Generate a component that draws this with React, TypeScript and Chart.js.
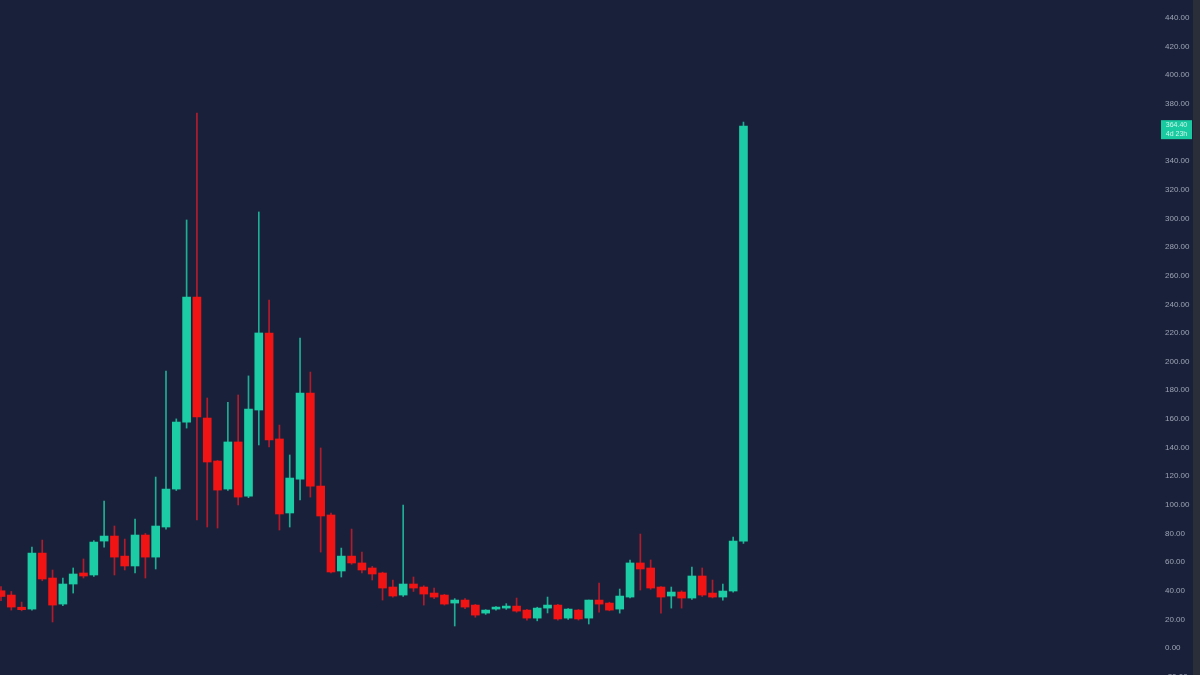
import React, { useEffect, useRef } from "react";
import { Chart, registerables } from "chart.js";

Chart.register(...registerables);

// candle index (time slot)
const opens = [40, 37.0, 28.5, 27.2, 66.3, 48.9, 30.7, 44.7, 52.4, 51.0, 74.7, 78.2, 64.2, 57.3, 78.9, 63.5, 84.5, 111.0, 157.8, 245.1,
  160.6, 130.6, 111.0, 143.9, 106.1, 166.2, 220.0, 146.0, 94.3, 118.0, 178.1, 113.1, 92.9, 53.8, 64.2, 59.4, 55.9, 52.4, 42.6, 37.0,
  44.7, 42.6, 38.4, 37.0, 31.4, 33.5, 30.0, 24.4, 27.2, 27.9, 29.3, 26.5, 20.9, 27.9, 30.0, 20.9, 26.5, 20.9, 33.5, 31.4,
  27.2, 35.6, 59.4, 55.9, 42.6, 36.3, 39.1, 34.9, 50.3, 38.4, 35.6, 39.8, 74.7];
const highs = [43, 39.5, 32.1, 70.5, 75.4, 54.5, 48.9, 55.9, 62.2, 75.0, 102.7, 85.2, 76.1, 90.1, 80.0, 119.4, 193.4, 160.0, 298.9, 373.6,
  174.6, 131.0, 171.6, 176.7, 190.0, 304.5, 243.0, 155.7, 134.8, 216.5, 192.7, 139.7, 94.3, 69.8, 83.1, 67.0, 57.0, 53.0, 47.5, 99.9,
  49.6, 43.5, 41.9, 37.5, 34.5, 34.5, 30.5, 26.8, 29.0, 31.0, 34.9, 27.0, 28.5, 35.6, 30.5, 27.5, 27.0, 33.5, 45.4, 32.0,
  41.2, 61.5, 79.6, 61.5, 43.0, 42.6, 40.0, 56.6, 55.9, 47.5, 44.7, 77.5, 367.3];
const lows = [33, 26.5, 26.0, 26.5, 47.0, 18.2, 29.5, 38.4, 48.9, 50.0, 70.5, 51.0, 54.5, 52.4, 48.9, 55.2, 83.0, 110.0, 153.6, 89.4,
  84.5, 83.8, 110.0, 99.9, 105.0, 141.8, 140.4, 82.4, 84.5, 103.4, 105.4, 67.0, 52.4, 49.6, 58.5, 52.4, 47.5, 33.5, 35.5, 36.0,
  39.5, 30.0, 34.5, 30.0, 15.4, 27.5, 21.5, 23.5, 26.5, 27.0, 25.0, 19.5, 19.0, 24.5, 19.5, 20.0, 19.5, 16.8, 25.1, 26.0,
  24.4, 35.0, 40.5, 41.0, 24.4, 27.9, 27.9, 34.0, 36.0, 35.0, 33.5, 39.0, 73.0];
const closes = [36, 28.6, 26.8, 66.3, 48.2, 30.0, 44.7, 51.7, 50.3, 74.0, 78.2, 63.5, 57.3, 78.9, 63.5, 85.2, 111.0, 157.8, 245.1, 161.3,
  129.9, 110.3, 143.9, 105.4, 166.9, 220.0, 145.3, 93.6, 118.7, 178.1, 113.1, 92.2, 53.1, 64.2, 59.4, 54.5, 51.7, 41.9, 36.3, 44.7,
  41.9, 37.7, 35.6, 30.7, 33.5, 28.6, 23.0, 26.5, 28.6, 29.3, 25.8, 20.9, 27.9, 30.0, 20.3, 27.2, 20.3, 33.5, 30.7, 26.5,
  36.3, 59.4, 55.2, 41.9, 35.6, 39.1, 34.9, 50.3, 37.0, 35.6, 39.8, 74.7, 364.4];

const yTicks = [-20, 0, 20, 40, 60, 80, 100, 120, 140, 160, 180, 200, 220, 240, 260, 280, 300, 320, 340, 360, 380, 400, 420, 440];
const lastPrice = 364.4;
const lastPriceLabel = "364.40";
const countdownLabel = "4d 23h";

const UP = "#1ccca4";
const DOWN = "#f01414";
const UP_WICK = "rgba(30,200,165,0.85)";
const DOWN_WICK = "rgba(220,25,40,0.8)";
const BG = "#19213a";

export default function App() {
  const ref = useRef<HTMLCanvasElement | null>(null);
  useEffect(() => {
    if (!ref.current) return;
    const idx = opens.map((_, i) => i);
    const up = idx.map((i) => closes[i] >= opens[i]);
    const bgPlugin = {
      id: "bg",
      beforeDraw(chart: any) {
        const c = chart.ctx;
        c.save();
        c.fillStyle = BG;
        c.fillRect(0, 0, chart.width, chart.height);
        c.fillStyle = "#2a2e39";
        c.fillRect(1193, 0, 7, chart.height);
        c.restore();
      },
      afterDraw(chart: any) {
        const c = chart.ctx;
        const y = chart.scales.y.getPixelForValue(lastPrice) + 3;
        c.save();
        c.fillStyle = "#19c9a0";
        c.fillRect(1161, y - 9, 31, 19);
        c.fillStyle = "rgba(235,255,248,0.85)";
        c.font = "7px 'Liberation Sans', Arial, sans-serif";
        c.textAlign = "center";
        c.textBaseline = "middle";
        c.fillText(lastPriceLabel, 1176.5, y - 4);
        c.fillText(countdownLabel, 1176.5, y + 5);
        c.restore();
      },
    };
    const chart = new Chart(ref.current, {
      type: "bar",
      data: {
        datasets: [
          {
            label: "wick",
            data: idx.map((i) => ({ x: i, y: [lows[i], highs[i]] })) as any,
            backgroundColor: idx.map((i) => (up[i] ? UP_WICK : DOWN_WICK)),
            barThickness: 1,
            grouped: false,
            order: 2,
          },
          {
            label: "body",
            data: idx.map((i) => ({ x: i, y: [opens[i], closes[i]] })) as any,
            backgroundColor: idx.map((i) => (up[i] ? UP : DOWN)),
            barThickness: 8,
            minBarLength: 2,
            grouped: false,
            order: 1,
          },
        ],
      },
      options: {
        responsive: false,
        animation: false,
        layout: { padding: 0 },
        plugins: { legend: { display: false }, tooltip: { enabled: false } },
        scales: {
          x: { type: "linear", min: -0.097, max: 112.2, display: false, offset: false },
          y: {
            position: "right",
            min: -29.3,
            max: 452.5,
            grid: { display: false, drawTicks: false },
            border: { display: false },
            afterBuildTicks(scale: any) {
              scale.ticks = yTicks.map((v) => ({ value: v }));
            },
            afterFit(scale: any) {
              scale.width = 42;
              scale.paddingTop = 0;
              scale.paddingBottom = 0;
            },
            ticks: {
              padding: 7,
              color: "#9da3b4",
              font: { size: 8, family: "'Liberation Sans', Arial, sans-serif" },
              callback: (v: any) => Number(v).toFixed(2),
            },
          },
        },
      },
      plugins: [bgPlugin],
    });
    return () => chart.destroy();
  }, []);
  return (
    <div style={{ position: "fixed", left: 0, top: 0, width: 1200, height: 690, background: BG }}>
      <canvas ref={ref} width={1200} height={690} style={{ display: "block" }} />
    </div>
  );
}
